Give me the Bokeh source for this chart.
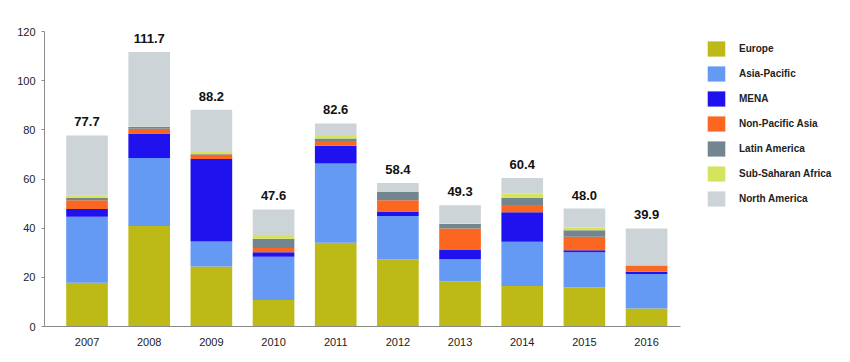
from bokeh.plotting import figure
from bokeh.models import (ColumnDataSource, Range1d, FixedTicker, Legend, LegendItem,
                          LabelSet)
from bokeh.core.properties import value
from bokeh.embed import file_html
from bokeh.resources import INLINE

years = [2007, 2008, 2009, 2010, 2011, 2012, 2013, 2014, 2015, 2016]
europe = [17.8, 40.9, 24.4, 10.8, 34.1, 27.4, 18.3, 16.5, 16.0, 7.3]
asia_pacific = [26.8, 27.6, 10.2, 17.6, 32.2, 17.6, 9.1, 18.0, 14.2, 14.1]
mena = [3.2, 10.0, 33.5, 1.8, 7.2, 1.8, 3.7, 12.0, 0.8, 0.9]
non_pacific_asia = [3.6, 1.9, 1.9, 1.7, 2.0, 4.6, 8.8, 2.9, 5.5, 2.3]
latin_america = [1.0, 0.8, 0.2, 3.8, 1.0, 3.4, 1.8, 3.0, 2.7, 0.2]
sub_saharan_africa = [0.8, 0.1, 0.8, 1.1, 1.0, 0.3, 0.2, 1.7, 1.1, 0.2]
north_america = [24.5, 30.4, 17.2, 10.8, 5.1, 3.3, 7.4, 6.3, 7.7, 14.9]
totals = [77.7, 111.7, 88.2, 47.6, 82.6, 58.4, 49.3, 60.4, 48.0, 39.9]
total_labels = ["77.7", "111.7", "88.2", "47.6", "82.6", "58.4", "49.3", "60.4", "48.0", "39.9"]

series_names = ["Europe", "Asia-Pacific", "MENA", "Non-Pacific Asia", "Latin America",
                "Sub-Saharan Africa", "North America"]
series_keys = ["europe", "asia_pacific", "mena", "non_pacific_asia", "latin_america",
               "sub_saharan_africa", "north_america"]
colors = ["#BDBA17", "#6499F4", "#1F12EE", "#FB6720", "#738690", "#D6E35C", "#CDD4D8"]
y_ticks = [0, 20, 40, 60, 80, 100, 120]

source = ColumnDataSource(dict(
    year=years, europe=europe, asia_pacific=asia_pacific, mena=mena,
    non_pacific_asia=non_pacific_asia, latin_america=latin_america,
    sub_saharan_africa=sub_saharan_africa, north_america=north_america,
    total=totals, label=total_labels,
))

FONT = "Liberation Sans"
X_START, X_AXIS_END, X_END = 2006.316, 2016.547, 2019.055

p = figure(width=840, height=356, output_backend="svg", toolbar_location=None,
           x_range=Range1d(X_START, X_END), y_range=Range1d(0, 120),
           min_border_left=44, min_border_right=4, min_border_top=31,
           min_border_bottom=30)
p.outline_line_color = None
p.xgrid.visible = False
p.ygrid.visible = False
p.background_fill_color = "white"
p.border_fill_color = "white"

renderers = p.vbar_stack(series_keys, x="year", width=0.67, color=colors,
                         line_color=None, source=source)

labels = LabelSet(x="year", y="total", text="label", source=source,
                  text_align="center", text_baseline="alphabetic", y_offset=9,
                  text_font=value(FONT), text_font_size=value("13px"),
                  text_font_style="bold", text_color="#111111")
p.add_layout(labels)

# axes
p.yaxis.ticker = FixedTicker(ticks=y_ticks, minor_ticks=[])
p.yaxis.major_tick_out = 3
p.yaxis.major_tick_in = 0
p.yaxis.minor_tick_out = 0
p.yaxis.minor_tick_in = 0
p.yaxis.axis_line_color = "#8a8a8a"
p.yaxis.major_tick_line_color = "#8a8a8a"
p.yaxis.major_label_standoff = 6
p.yaxis.major_label_text_font = FONT
p.yaxis.major_label_text_font_size = "11px"
p.yaxis.major_label_text_color = "#222222"

p.xaxis.bounds = (X_START, X_AXIS_END)
p.xaxis.ticker = FixedTicker(ticks=years, minor_ticks=[])
p.xaxis.major_tick_out = 0
p.xaxis.major_tick_in = 0
p.xaxis.minor_tick_out = 0
p.xaxis.minor_tick_in = 0
p.xaxis.axis_line_color = "#8a8a8a"
p.xaxis.major_label_standoff = 11
p.xaxis.major_label_text_font = FONT
p.xaxis.major_label_text_font_size = "11px"
p.xaxis.major_label_text_color = "#222222"

items = [LegendItem(label=n, renderers=[r]) for n, r in zip(series_names, renderers)]
legend = Legend(items=items, location=(661, 118), orientation="vertical",
                glyph_width=22, glyph_height=19, label_height=19, spacing=6,
                label_standoff=12, margin=0, padding=0,
                border_line_color=None, background_fill_alpha=0,
                label_text_font=FONT, label_text_font_size="10px",
                label_text_font_style="bold", label_text_color="#222222",
                label_text_baseline="alphabetic")
p.add_layout(legend)

open("out.html", "w").write(file_html(p, INLINE))
